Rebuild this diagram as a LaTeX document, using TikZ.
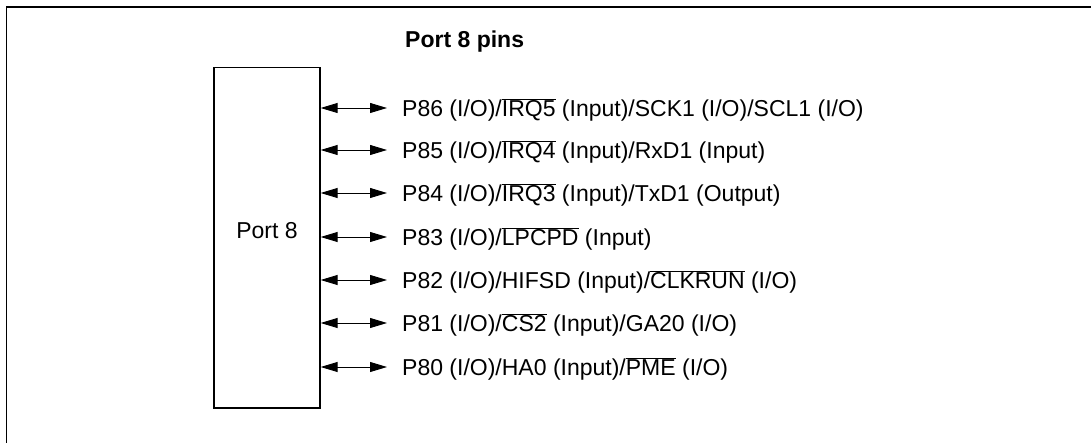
\documentclass[tikz,border=0pt]{standalone}
\usepackage{fontspec}
\setmainfont{Liberation Sans}
\usetikzlibrary{arrows.meta}
\newcommand\ovl[1]{$\overline{\mbox{#1}}$}
\begin{document}
\begin{tikzpicture}[x=1pt,y=-1pt,
  frameline/.style={line width=1.3pt},
  portbox/.style={draw, line width=1.3pt, minimum width=106pt, minimum height=340.5pt, inner sep=0pt},
  pinarrow/.style={line width=0.9pt, {Triangle[length=17pt,width=10pt]}-{Triangle[length=17pt,width=10pt]}},
  lbl/.style={anchor=base west, inner sep=0pt, font=\fontsize{23}{27}\selectfont},
  ttl/.style={anchor=base west, inner sep=0pt, font=\fontsize{23}{27}\selectfont\bfseries}]
\useasboundingbox (0,0) rectangle (1091,443);
\draw[frameline] (6.5,443) -- (6.5,7) -- (1091,7);
\node[ttl] (title) at (405,48) {Port 8 pins};
\node[portbox] (box) at (267,237.75) {};
\node[lbl, anchor=base] (boxlbl) at (267,238.5) {Port 8};
\foreach \n/\y/\t in {
  86/108/{P86 (I/O)/\ovl{IRQ5} (Input)/SCK1 (I/O)/SCL1 (I/O)},
  85/150/{P85 (I/O)/\ovl{IRQ4} (Input)/RxD1 (Input)},
  84/193/{P84 (I/O)/\ovl{IRQ3} (Input)/TxD1 (Output)},
  83/237/{P83 (I/O)/\ovl{LPCPD} (Input)},
  82/280/{P82 (I/O)/HIFSD (Input)/\ovl{CLKRUN} (I/O)},
  81/323/{P81 (I/O)/\ovl{CS2} (Input)/GA20 (I/O)},
  80/367/{P80 (I/O)/HA0 (Input)/\ovl{PME} (I/O)}}{
  \coordinate (a\n) at (387,\y);
  \node[lbl] (l\n) at (402,\y+8.4) {\t};
  \draw[pinarrow] (box.east |- a\n) -- (a\n);
}
\end{tikzpicture}
\end{document}
